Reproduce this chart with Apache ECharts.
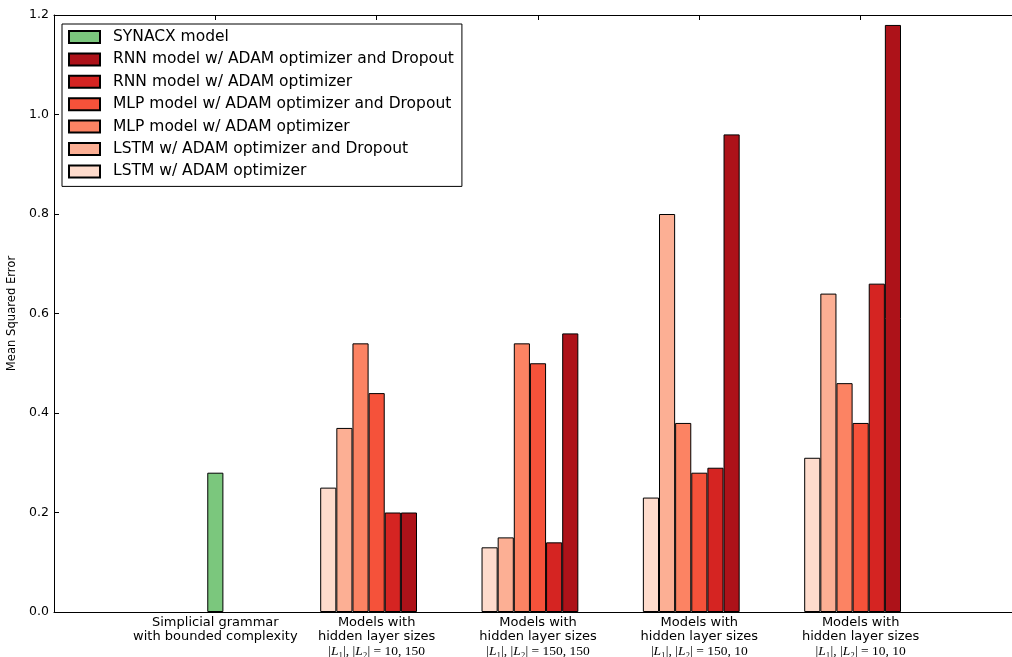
<!DOCTYPE html>
<html>
<head>
<meta charset="utf-8">
<script src="https://cdn.jsdelivr.net/npm/echarts@6/dist/echarts.min.js"></script>
<style>
html,body{margin:0;padding:0;background:#fff;overflow:hidden;width:1012px;height:657px;}
#chart{width:1022px;height:657px;}
</style>
</head>
<body>
<div id="chart"></div>
<script>
// ---- data ----
const categories = ['', 'simplicial', 'h10_150', 'h150_150', 'h150_10', 'h10_10', ''];
const categoryLines = {
  'simplicial': ['Simplicial grammar', 'with bounded complexity', null],
  'h10_150': ['Models with', 'hidden layer sizes', ['10, 150']],
  'h150_150': ['Models with', 'hidden layer sizes', ['150, 150']],
  'h150_10': ['Models with', 'hidden layer sizes', ['150, 10']],
  'h10_10': ['Models with', 'hidden layer sizes', ['10, 10']]
};
const synacx      = [null, 0.28, null, null, null, null, null];
const lstm        = [null, null, 0.25, 0.13, 0.23, 0.31, null];
const lstmDropout = [null, null, 0.37, 0.15, 0.80, 0.64, null];
const mlp         = [null, null, 0.54, 0.54, 0.38, 0.46, null];
const mlpDropout  = [null, null, 0.44, 0.50, 0.28, 0.38, null];
const rnn         = [null, null, 0.20, 0.14, 0.29, 0.66, null];
const rnnDropout  = [null, null, 0.20, 0.56, 0.96, 1.18, null];
const yTicks = [0.0, 0.2, 0.4, 0.6, 0.8, 1.0, 1.2];

const names = {
  synacx: 'SYNACX model',
  rnnD: 'RNN model w/ ADAM optimizer and Dropout',
  rnn: 'RNN model w/ ADAM optimizer',
  mlpD: 'MLP model w/ ADAM optimizer and Dropout',
  mlp: 'MLP model w/ ADAM optimizer',
  lstmD: 'LSTM w/ ADAM optimizer and Dropout',
  lstm: 'LSTM w/ ADAM optimizer'
};
const colors = {
  synacx: '#7bc77d', lstm: '#fedbcc', lstmD: '#fcaf94', mlp: '#fc8363',
  mlpD: '#f5523a', rnn: '#d52422', rnnD: '#ad1219'
};

const chart = echarts.init(document.getElementById('chart'), null, {renderer: 'canvas'});

function barSeries(key, data, axisIdx) {
  return {
    name: names[key], type: 'bar', data: data, xAxisIndex: axisIdx,
    barWidth: '10%', barGap: '0%',
    itemStyle: {color: colors[key], borderColor: '#000', borderWidth: 1},
    emphasis: {disabled: true}, animation: false
  };
}

const labelRich = {
  t: {fontFamily: 'DejaVu Sans', fontSize: 13, color: '#000', lineHeight: 14},
  m: {fontFamily: 'Liberation Serif', fontSize: 13.5, color: '#000', lineHeight: 15},
  i: {fontFamily: 'Liberation Serif', fontSize: 13.5, fontStyle: 'italic', color: '#000', lineHeight: 15}
};

const option = {
  backgroundColor: '#fff',
  animation: false,
  grid: {left: 54, top: 15, right: 0, bottom: 45, containLabel: false, outerBoundsMode: 'none'},
  legend: {
    orient: 'vertical', left: 62, top: 24,
    data: [names.synacx, names.rnnD, names.rnn, names.mlpD, names.mlp, names.lstmD, names.lstm],
    icon: 'rect',
    itemWidth: 31, itemHeight: 12, itemGap: 6.4,
    padding: [5, 8, 7, 6],
    backgroundColor: '#fff', borderColor: '#000', borderWidth: 1, borderRadius: 0,
    textStyle: {fontFamily: 'DejaVu Sans', fontSize: 15.5, color: '#000', lineHeight: 15.4, padding: [0, 0, 0, 8]},
    selectedMode: false
  },
  xAxis: [
    {
      type: 'category', data: categories, boundaryGap: false, position: 'bottom',
      axisLine: {lineStyle: {color: '#000', width: 1}},
      axisTick: {inside: true, length: 5, lineStyle: {color: '#000'}},
      axisLabel: {
        interval: 0, margin: 4, color: '#000',
        formatter: function (v) {
          const l = categoryLines[v];
          if (!l) return '';
          let s = '{t|' + l[0] + '}\n{t|' + l[1] + '}';
          if (l[2]) {
            s += '\n{m||}{i|L}{m|₁|, |}{i|L}{m|₂| = ' + l[2][0] + '}';
          }
          return s;
        },
        rich: labelRich
      },
      splitLine: {show: false}
    },
    {
      type: 'category', data: categories, boundaryGap: false, position: 'top',
      axisLine: {lineStyle: {color: '#000', width: 1}},
      axisTick: {inside: true, length: 5, lineStyle: {color: '#000'}},
      axisLabel: {show: false},
      splitLine: {show: false}
    }
  ],
  yAxis: {
    type: 'value', min: 0, max: 1.2, interval: 0.2,
    name: 'Mean Squared Error', nameLocation: 'middle', nameGap: 31, nameRotate: 90,
    nameTextStyle: {fontFamily: 'DejaVu Sans', fontSize: 11.6, color: '#000'},
    axisLine: {show: true, lineStyle: {color: '#000', width: 1}},
    axisTick: {show: true, inside: true, length: 5, lineStyle: {color: '#000'}},
    axisLabel: {
      margin: 5, color: '#000', fontFamily: 'DejaVu Sans', fontSize: 12.5,
      formatter: function (v) {
        const t = yTicks.find(function (x) { return Math.abs(x - v) < 1e-9; });
        return t === undefined ? '' : t.toFixed(1);
      }
    },
    splitLine: {show: false}
  },
  series: [
    barSeries('synacx', synacx, 1),
    barSeries('lstm', lstm, 0),
    barSeries('lstmD', lstmDropout, 0),
    barSeries('mlp', mlp, 0),
    barSeries('mlpD', mlpDropout, 0),
    barSeries('rnn', rnn, 0),
    barSeries('rnnD', rnnDropout, 0),
    {
      name: '_spacer', type: 'bar', xAxisIndex: 0, data: categories.map(function () { return null; }),
      barWidth: '10%', barGap: '0%', itemStyle: {color: 'transparent'}, silent: true
    }
  ]
};
chart.setOption(option);
</script>
</body>
</html>
